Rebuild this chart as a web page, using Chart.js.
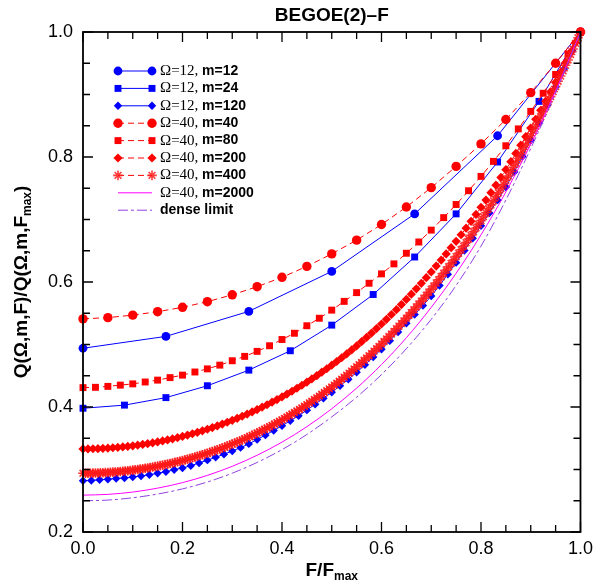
<!DOCTYPE html>
<html>
<head>
<meta charset="utf-8">
<title>BEGOE(2)-F</title>
<script src="https://cdn.jsdelivr.net/npm/chart.js@4.4.0/dist/chart.umd.min.js"></script>
<style>
  html, body { margin: 0; padding: 0; background: #fff; }
</style>
</head>
<body>
<canvas id="chart" width="599" height="586"></canvas>
<script>
// F/Fmax grid is uniform for each series: x_i = i / (n - 1)
const omega12m12 = [0.494, 0.513, 0.553, 0.617, 0.709, 0.834, 1.0];

const omega12m24 = [0.398, 0.403, 0.415, 0.434, 0.459, 0.490, 0.531, 0.580, 0.640, 0.709, 0.792, 0.889, 1.0];

const omega12m120 = [
  0.282, 0.2825, 0.2835, 0.2845, 0.2855, 0.2865, 0.288, 0.2895, 0.2915, 0.294,
  0.2965, 0.2995, 0.3025, 0.306, 0.3105, 0.315, 0.3195, 0.3245, 0.3295, 0.335,
  0.341, 0.348, 0.355, 0.3625, 0.370, 0.378, 0.386, 0.395, 0.4045, 0.414,
  0.4235, 0.434, 0.4445, 0.4555, 0.4675, 0.480, 0.4925, 0.506, 0.520, 0.534,
  0.548, 0.5625, 0.5775, 0.5945, 0.6125, 0.631, 0.6505, 0.670, 0.690, 0.7105,
  0.731, 0.752, 0.776, 0.801, 0.827, 0.8545, 0.883, 0.912, 0.941, 0.9705,
  1.0
];

const omega40m40 = [
  0.541, 0.543, 0.547, 0.5525, 0.5595, 0.5685, 0.5795, 0.5925, 0.6075, 0.625,
  0.645, 0.667, 0.692, 0.720, 0.751, 0.785, 0.821, 0.860, 0.903, 0.950, 1.0
];

const omega40m80 = [
  0.431, 0.4315, 0.433, 0.435, 0.437, 0.440, 0.443, 0.447, 0.451, 0.456,
  0.461, 0.467, 0.474, 0.481, 0.489, 0.498, 0.508, 0.518, 0.530, 0.542,
  0.555, 0.569, 0.583, 0.598, 0.613, 0.629, 0.646, 0.664, 0.683, 0.703,
  0.724, 0.746, 0.769, 0.793, 0.818, 0.845, 0.873, 0.902, 0.932, 0.965,
  1.0
];

const omega40m200 = [
  0.333, 0.333, 0.3332, 0.3334, 0.3338, 0.3342, 0.3348, 0.3354, 0.3362, 0.3370,
  0.3379, 0.3390, 0.3401, 0.3414, 0.3427, 0.3442, 0.3457, 0.3474, 0.3491, 0.3510,
  0.3530, 0.3550, 0.3572, 0.3595, 0.3619, 0.3644, 0.3671, 0.3698, 0.3727, 0.3756,
  0.3787, 0.3819, 0.3852, 0.3887, 0.3922, 0.3959, 0.3997, 0.4036, 0.4077, 0.4119,
  0.4162, 0.4207, 0.4252, 0.4300, 0.4348, 0.4398, 0.4449, 0.4502, 0.4557, 0.4612,
  0.4669, 0.4728, 0.4788, 0.4850, 0.4914, 0.4978, 0.5045, 0.5113, 0.5183, 0.5255,
  0.5328, 0.5403, 0.5480, 0.5558, 0.5639, 0.5721, 0.5805, 0.5891, 0.5979, 0.6069,
  0.6161, 0.6255, 0.6351, 0.6449, 0.6549, 0.6651, 0.6756, 0.6862, 0.6971, 0.7082,
  0.7196, 0.7311, 0.7429, 0.7550, 0.7673, 0.7798, 0.7926, 0.8057, 0.8190, 0.8325,
  0.8463, 0.8604, 0.8748, 0.8894, 0.9044, 0.9196, 0.9351, 0.9509, 0.9669, 0.9833,
  1.0
];

const omega40m400 = [
  0.294, 0.294, 0.294, 0.2941, 0.2942, 0.2943, 0.2945, 0.2946, 0.2948, 0.2950,
  0.2953, 0.2955, 0.2958, 0.2961, 0.2965, 0.2968, 0.2972, 0.2976, 0.2981, 0.2985,
  0.2990, 0.2995, 0.3001, 0.3007, 0.3013, 0.3019, 0.3025, 0.3032, 0.3039, 0.3046,
  0.3054, 0.3062, 0.3070, 0.3078, 0.3086, 0.3095, 0.3104, 0.3114, 0.3123, 0.3133,
  0.3144, 0.3154, 0.3165, 0.3176, 0.3187, 0.3199, 0.3211, 0.3223, 0.3235, 0.3248,
  0.3261, 0.3274, 0.3288, 0.3302, 0.3316, 0.3330, 0.3345, 0.3360, 0.3376, 0.3391,
  0.3407, 0.3424, 0.3440, 0.3457, 0.3474, 0.3492, 0.3510, 0.3528, 0.3546, 0.3565,
  0.3584, 0.3604, 0.3623, 0.3644, 0.3664, 0.3685, 0.3706, 0.3727, 0.3749, 0.3771,
  0.3794, 0.3817, 0.3840, 0.3863, 0.3887, 0.3911, 0.3936, 0.3961, 0.3986, 0.4012,
  0.4038, 0.4065, 0.4091, 0.4119, 0.4146, 0.4174, 0.4203, 0.4231, 0.4261, 0.4290,
  0.4320, 0.4350, 0.4381, 0.4412, 0.4444, 0.4476, 0.4509, 0.4541, 0.4575, 0.4608,
  0.4643, 0.4677, 0.4712, 0.4748, 0.4784, 0.4820, 0.4857, 0.4894, 0.4932, 0.4970,
  0.5009, 0.5048, 0.5087, 0.5127, 0.5168, 0.5209, 0.5251, 0.5293, 0.5335, 0.5378,
  0.5422, 0.5466, 0.5510, 0.5556, 0.5601, 0.5647, 0.5694, 0.5741, 0.5789, 0.5837,
  0.5886, 0.5936, 0.5985, 0.6036, 0.6087, 0.6139, 0.6191, 0.6244, 0.6297, 0.6351,
  0.6406, 0.6461, 0.6517, 0.6573, 0.6630, 0.6687, 0.6746, 0.6805, 0.6864, 0.6924,
  0.6985, 0.7046, 0.7108, 0.7171, 0.7234, 0.7298, 0.7363, 0.7428, 0.7494, 0.7561,
  0.7628, 0.7696, 0.7765, 0.7835, 0.7905, 0.7976, 0.8048, 0.8120, 0.8193, 0.8267,
  0.8341, 0.8417, 0.8493, 0.8570, 0.8647, 0.8726, 0.8805, 0.8885, 0.8966, 0.9047,
  0.9129, 0.9213, 0.9297, 0.9381, 0.9467, 0.9553, 0.9641, 0.9729, 0.9818, 0.9907,
  1.0
];

// plain lines, F/Fmax step 0.05
const omega40m2000 = [
  0.259, 0.2602, 0.2639, 0.2702, 0.2790, 0.2906, 0.3051, 0.3228, 0.3438, 0.3685,
  0.3972, 0.4302, 0.4679, 0.5108, 0.5594, 0.6140, 0.6754, 0.7441, 0.8206, 0.9057, 1.0
];
const denseLimit = [
  0.250, 0.2511, 0.2548, 0.2607, 0.2690, 0.2800, 0.2941, 0.3113, 0.3318, 0.3560,
  0.3842, 0.4157, 0.4519, 0.4933, 0.5404, 0.5945, 0.6574, 0.7311, 0.8136, 0.9027, 1.0
];

const legendOmega = ['\u03A9=12, ', '\u03A9=12, ', '\u03A9=12, ', '\u03A9=40, ', '\u03A9=40, ', '\u03A9=40, ', '\u03A9=40, ', '\u03A9=40, ', ''];
const legendM = ['m=12', 'm=24', 'm=120', 'm=40', 'm=80', 'm=200', 'm=400', 'm=2000', 'dense limit'];

const xTickValues = [0, 0.2, 0.4, 0.6, 0.8, 1.0];
const yTickValues = [0.2, 0.4, 0.6, 0.8, 1.0];

const allSeries = [omega12m12, omega12m24, omega12m120, omega40m40, omega40m80,
                   omega40m200, omega40m400, omega40m2000, denseLimit];

const BLUE = '#0000ff', RED = '#ff0000';
const styles = [
  { color: BLUE, dash: [], point: 'circle', r: 4.4 },
  { color: BLUE, dash: [], point: 'rect', r: 4.9 },
  { color: BLUE, dash: [], point: 'rectRot', r: 4.2 },
  { color: RED, dash: [6, 4], point: 'circle', r: 4.7 },
  { color: RED, dash: [6, 4], point: 'rect', r: 4.9 },
  { color: RED, dash: [6, 4], point: 'rectRot', r: 4.6 },
  { color: RED, dash: [6, 4], point: 'star', r: 4.8 },
  { color: '#ff00ff', dash: [], point: false, r: 0 },
  { color: '#9040e0', dash: [10, 3, 3, 3], point: false, r: 0 }
];

function toPoints(values) {
  return values.map((v, i) => ({ x: i / (values.length - 1), y: v }));
}

const datasets = allSeries.map((vals, i) => {
  const s = styles[i];
  const isStar = s.point === 'star';
  return {
    label: legendOmega[i] + legendM[i],
    data: toPoints(vals),
    borderColor: s.color,
    backgroundColor: s.color,
    borderWidth: 1,
    borderDash: s.dash,
    pointStyle: s.point,
    pointRadius: s.r,
    pointHoverRadius: s.r,
    pointBackgroundColor: s.color,
    pointBorderColor: isStar ? 'rgba(255,25,25,0.85)' : s.color,
    pointBorderWidth: isStar ? 1.6 : 0,
    tension: 0,
    cubicInterpolationMode: s.point ? 'default' : 'monotone',
    fill: false,
    clip: false,
    order: allSeries.length - i
  };
});

const SANS = '"Liberation Sans", Arial, Helvetica, sans-serif';
const SERIF = '"Liberation Serif", "Times New Roman", serif';

// draw text pieces with a subscript part
function drawRich(ctx, parts, x, y, size, align) {
  let total = 0;
  parts.forEach(p => {
    ctx.font = 'bold ' + (p.sub ? Math.round(size * 0.65) : size) + 'px ' + SANS;
    total += ctx.measureText(p.t).width;
  });
  let cx = align === 'center' ? x - total / 2 : x;
  parts.forEach(p => {
    ctx.font = 'bold ' + (p.sub ? Math.round(size * 0.65) : size) + 'px ' + SANS;
    ctx.fillText(p.t, cx, p.sub ? y + size * 0.3 : y);
    cx += ctx.measureText(p.t).width;
  });
}

const decorPlugin = {
  id: 'decor',
  afterDraw(chart) {
    const ctx = chart.ctx;
    const a = chart.chartArea;
    const xs = chart.scales.x, ys = chart.scales.y;
    ctx.save();

    // frame
    ctx.strokeStyle = '#000';
    ctx.lineWidth = 1.8;
    ctx.setLineDash([]);
    ctx.strokeRect(a.left, a.top, a.right - a.left, a.bottom - a.top);

    // inward ticks on all four sides
    ctx.lineWidth = 1.3;
    ctx.beginPath();
    for (let i = 0; i <= 20; i++) {
      const v = i * 0.05;
      const len = i % 4 === 0 ? 10 : 7;
      const px = xs.getPixelForValue(v);
      ctx.moveTo(px, a.bottom); ctx.lineTo(px, a.bottom - len);
      ctx.moveTo(px, a.top); ctx.lineTo(px, a.top + len);
    }
    for (let i = 0; i <= 16; i++) {
      const v = 0.2 + i * 0.05;
      const len = i % 4 === 0 ? 10 : 7;
      const py = ys.getPixelForValue(v);
      ctx.moveTo(a.left, py); ctx.lineTo(a.left + len, py);
      ctx.moveTo(a.right, py); ctx.lineTo(a.right - len, py);
    }
    ctx.stroke();

    // title
    ctx.fillStyle = '#000';
    ctx.textBaseline = 'middle';
    ctx.textAlign = 'center';
    ctx.font = 'bold 19px ' + SANS;
    ctx.fillText('BEGOE(2)\u2013F', (a.left + a.right) / 2, 16);

    // axis titles
    ctx.textAlign = 'left';
    drawRich(ctx, [{ t: 'F/F' }, { t: 'max', sub: true }], (a.left + a.right) / 2, 571, 19, 'center');
    ctx.save();
    ctx.translate(22, (a.top + a.bottom) / 2);
    ctx.rotate(-Math.PI / 2);
    drawRich(ctx, [{ t: 'Q(\u03A9,m,F)/Q(\u03A9,m,F' }, { t: 'max', sub: true }, { t: ')' }], 0, 0, 19, 'center');
    ctx.restore();

    // legend
    const x0 = 118, x1 = 152, tx = 160;
    chart.data.datasets.forEach((ds, i) => {
      const y = 71 + i * 17.4;
      ctx.save();
      ctx.strokeStyle = ds.borderColor;
      ctx.lineWidth = ds.borderWidth;
      ctx.setLineDash(ds.borderDash || []);
      ctx.beginPath();
      ctx.moveTo(x0, y); ctx.lineTo(x1, y);
      ctx.stroke();
      ctx.restore();
      if (ds.pointStyle) {
        ctx.save();
        ctx.fillStyle = ds.pointBackgroundColor;
        ctx.strokeStyle = ds.pointBorderColor;
        ctx.lineWidth = ds.pointBorderWidth;
        const opts = { pointStyle: ds.pointStyle, rotation: 0, radius: ds.pointRadius, borderWidth: ds.pointBorderWidth };
        Chart.helpers.drawPoint(ctx, opts, x0, y);
        Chart.helpers.drawPoint(ctx, opts, x1, y);
        ctx.restore();
      }
      ctx.fillStyle = '#000';
      ctx.textAlign = 'left';
      ctx.textBaseline = 'middle';
      let cx = tx;
      if (legendOmega[i]) {
        ctx.font = '15px ' + SERIF;
        ctx.fillText(legendOmega[i], cx, y);
        cx += ctx.measureText(legendOmega[i]).width;
      }
      ctx.font = 'bold 14px ' + SANS;
      ctx.fillText(legendM[i], cx, y);
    });
    ctx.restore();
  }
};

new Chart(document.getElementById('chart'), {
  type: 'line',
  data: { datasets },
  options: {
    responsive: false,
    animation: false,
    events: [],
    layout: { padding: { left: 0, right: 18, top: 32, bottom: 0 } },
    plugins: {
      legend: { display: false },
      tooltip: { enabled: false },
      title: { display: false }
    },
    scales: {
      x: {
        type: 'linear',
        min: 0,
        max: 1,
        afterFit(s) { s.height = 54; },
        afterBuildTicks(s) { s.ticks = xTickValues.map(v => ({ value: v })); },
        grid: { display: false, drawTicks: false },
        border: { display: false },
        ticks: {
          padding: 6,
          color: '#000',
          font: { family: SANS, size: 18 },
          maxRotation: 0,
          callback: v => v.toFixed(1)
        }
      },
      y: {
        type: 'linear',
        min: 0.2,
        max: 1.0,
        afterFit(s) { s.width = 83; },
        afterBuildTicks(s) { s.ticks = yTickValues.map(v => ({ value: v })); },
        grid: { display: false, drawTicks: false },
        border: { display: false },
        ticks: {
          padding: 10,
          color: '#000',
          font: { family: SANS, size: 18 },
          callback: v => v.toFixed(1)
        }
      }
    }
  },
  plugins: [decorPlugin]
});
</script>
</body>
</html>
